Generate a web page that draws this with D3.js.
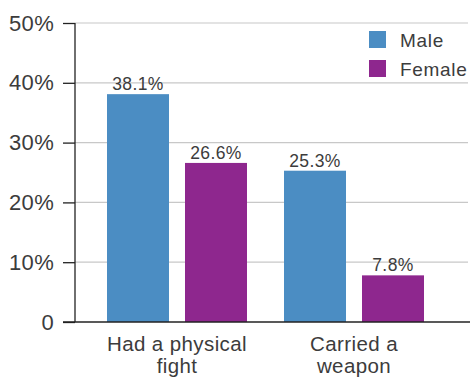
<!DOCTYPE html>
<html>
<head>
<meta charset="utf-8">
<script src="https://cdn.jsdelivr.net/npm/d3@7"></script>
<style>
  html, body { margin: 0; padding: 0; background: #fff; }
  svg { display: block; font-family: "Liberation Sans", Arial, sans-serif; }
</style>
</head>
<body>
<svg id="chart" width="470" height="377"></svg>
<script>
// Share of students reporting each behaviour, by sex (percent)
const categories = [["Had a physical", "fight"], ["Carried a", "weapon"]];
const seriesNames = ["Male", "Female"];
const male = [38.1, 25.3];
const female = [26.6, 7.8];
const yTicks = [0, 10, 20, 30, 40, 50];
const colors = ["#4b8dc3", "#8e278e"];

const svg = d3.select("#chart");
const W = 470;
const axisX = 75, plotTop = 23, base = 322;
const textColor = "#3c3c3c";

const y = d3.scaleLinear().domain([0, 50]).range([base, plotTop]);
const x0 = d3.scaleBand().domain(d3.range(categories.length)).range([88.5, 442.5]);
const x1 = d3.scaleBand().domain(seriesNames).range([18.5, 158.5]).paddingInner(0.205);
const values = [male, female];

// gridlines
svg.append("g").selectAll("line").data(yTicks.slice(1)).join("line")
  .attr("x1", axisX).attr("x2", 468)
  .attr("y1", d => y(d)).attr("y2", d => y(d))
  .attr("stroke", "#c8c8c8").attr("stroke-width", 1.2);

// y axis
const yAxis = d3.axisLeft(y).tickValues(yTicks)
  .tickFormat(d => d === 0 ? "0" : d + "%").tickSize(12).tickPadding(9);
const gy = svg.append("g").attr("transform", `translate(${axisX},0)`).call(yAxis);
gy.select(".domain").remove();
gy.selectAll(".tick line").attr("stroke", "#222").attr("stroke-width", 1.3);
gy.selectAll(".tick text").attr("fill", textColor).style("font-size", "22px")
  .style("letter-spacing", "0.3px").attr("font-family", null);
svg.append("line").attr("x1", axisX).attr("x2", axisX).attr("y1", plotTop).attr("y2", base)
  .attr("stroke", "#222").attr("stroke-width", 1.3);

// bars
const groups = svg.append("g").selectAll("g").data(categories).join("g")
  .attr("transform", (d, i) => `translate(${x0(i)},0)`);
groups.selectAll("rect")
  .data((d, i) => seriesNames.map((s, k) => ({ s, k, v: values[k][i] })))
  .join("rect")
  .attr("x", d => x1(d.s)).attr("width", x1.bandwidth())
  .attr("y", d => y(d.v)).attr("height", d => base - y(d.v))
  .attr("fill", d => colors[d.k]);
groups.selectAll("text.val")
  .data((d, i) => seriesNames.map((s, k) => ({ s, k, v: values[k][i] })))
  .join("text").attr("class", "val")
  .attr("x", d => x1(d.s) + x1.bandwidth() / 2).attr("y", d => y(d.v) - 4)
  .attr("text-anchor", "middle").attr("fill", textColor).style("font-size", "17.5px")
  .style("letter-spacing", "0.4px")
  .text(d => d.v.toFixed(1) + "%");

// x axis baseline
svg.append("line").attr("x1", 63).attr("x2", W).attr("y1", base).attr("y2", base)
  .attr("stroke", "#222").attr("stroke-width", 1.3);

// category labels
groups.each(function (d) {
  const t = d3.select(this).append("text")
    .attr("x", x0.bandwidth() / 2).attr("y", 351)
    .attr("text-anchor", "middle").attr("fill", textColor).style("font-size", "20.5px")
    .style("letter-spacing", "0.4px");
  d.forEach((line, j) => t.append("tspan").attr("x", x0.bandwidth() / 2)
    .attr("dy", j === 0 ? 0 : 22).text(line));
});

// legend
const lg = svg.append("g").attr("transform", "translate(369,31)");
const items = lg.selectAll("g").data(seriesNames).join("g")
  .attr("transform", (d, i) => `translate(0,${i * 29})`);
items.append("rect").attr("width", 17).attr("height", 17).attr("fill", (d, i) => colors[i]);
items.append("text").attr("x", 31).attr("y", 15.5).attr("fill", textColor)
  .style("font-size", "19px").style("letter-spacing", "0.7px").text(d => d);
</script>
</body>
</html>
